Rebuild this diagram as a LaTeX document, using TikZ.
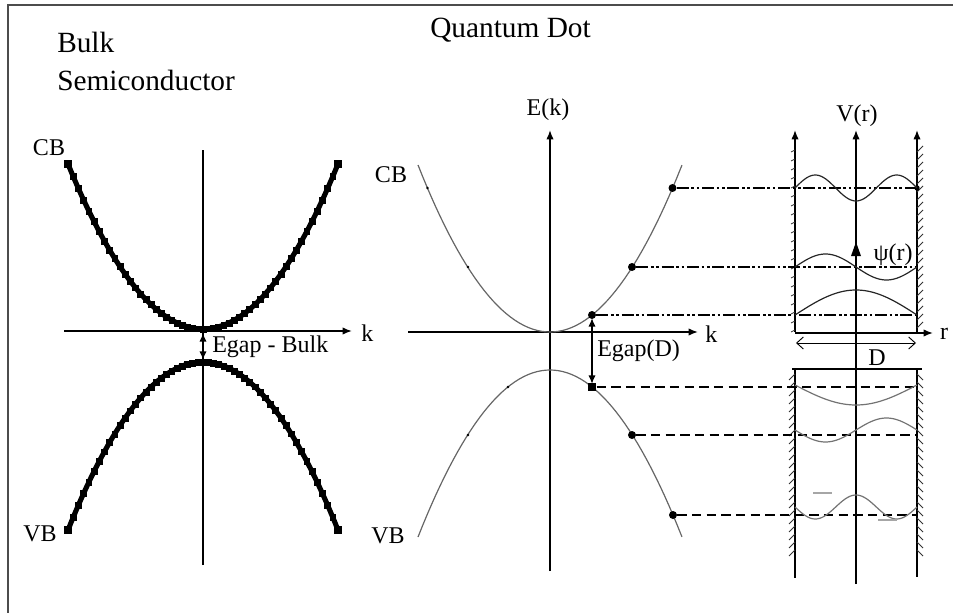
\documentclass[tikz,border=0pt]{standalone}
\usepackage{fontspec}
\setmainfont{Liberation Serif}
\usetikzlibrary{arrows.meta,plotmarks}
\begin{document}
\begin{tikzpicture}[x=0.75pt,y=-0.75pt,
  axis/.style={line width=1.1pt,black},
  axarrow/.style={axis,-{Latex[length=7pt,width=5.5pt]}},
  gaparrow/.style={line width=1.2pt,black,{Latex[length=6.5pt,width=5.5pt]}-{Latex[length=6.5pt,width=5.5pt]}},
  dimarrow/.style={line width=0.7pt,black,{Straight Barb[length=5pt,width=9pt]}-{Straight Barb[length=5pt,width=9pt]}},
  bulkband/.style={line width=3.8pt,black},
  qdband/.style={line width=0.9pt,black!60},
  dashdot/.style={line width=1.8pt,black,dash pattern=on 9pt off 2pt on 2pt off 2pt on 2pt off 2pt},
  dashlvl/.style={line width=1.1pt,black,dash pattern=on 7pt off 4pt},
  upwave/.style={line width=0.9pt,black!85},
  lowwave/.style={line width=0.9pt,black!55},
  hatch/.style={line width=0.6pt,black!80},
  lbl/.style={font=\fontsize{18}{20}\selectfont,inner sep=0pt},
  ttl/.style={font=\fontsize{22}{26}\selectfont,inner sep=0pt},
  bigdot/.style={circle,fill=black,inner sep=0pt,minimum size=6pt},
  bigsq/.style={rectangle,fill=black,inner sep=0pt,minimum size=6.5pt},
  smalldot/.style={circle,fill=black,inner sep=0pt,minimum size=2.2pt},
  endsq/.style={rectangle,fill=black,inner sep=0pt,minimum size=6.5pt}]
\useasboundingbox (0,0) rectangle (953,613);
% frame (cropped)
\coordinate (fr1) at (8,613);
\coordinate (fr2) at (8,5);
\coordinate (fr3) at (953,5);
\draw[line width=1.4pt,black!70] (fr1) -- (fr2) -- (fr3);

% titles
\node[ttl,anchor=base west] (bulk) at (57,53) {Bulk};
\node[ttl,anchor=base west] (semi) at (57,91) {Semiconductor};
\node[ttl,anchor=base west] (qd) at (430,38) {Quantum Dot};

% ---------------- bulk panel ----------------
\coordinate (bEbot) at (203,565);
\coordinate (bEtop) at (203,150);
\coordinate (bk0) at (64,331);
\coordinate (bk1) at (352,331);
\draw[axis] (bEbot) -- (bEtop);
\draw[axarrow] (bk0) -- (bk1);
\node[lbl,anchor=west] (bklab) at (361,333) {k};

\draw[bulkband] plot[domain=-1:1,samples=61] ({203+135*\x},{329-165*\x*\x});
\draw[bulkband] plot[domain=-1:1,samples=61] ({203+135*\x},{362+168*\x*\x});
\draw[black] plot[only marks,mark=square*,mark size=2.2pt,domain=-1:1,samples=53] ({203+135*\x},{329-165*\x*\x});
\draw[black] plot[only marks,mark=square*,mark size=2.2pt,domain=-1:1,samples=53] ({203+135*\x},{362+168*\x*\x});
\node[endsq] (bcbL) at (68,164) {};
\node[endsq] (bcbR) at (338,164) {};
\node[endsq] (bvbL) at (68,530) {};
\node[endsq] (bvbR) at (338,530) {};

\coordinate (bg0) at (203,333);
\coordinate (bg1) at (203,360);
\draw[gaparrow] (bg0) -- (bg1);
\node[lbl,anchor=west] (bgap) at (212,347) {Egap - Bulk};
\node[lbl] (bcb) at (49,148) {CB};
\node[lbl] (bvb) at (40,534) {VB};

% ---------------- quantum dot band panel ----------------
\coordinate (qEbot) at (550,571);
\coordinate (qEtop) at (550,130);
\coordinate (qk0) at (408,332);
\coordinate (qk1) at (698,332);
\draw[axarrow] (qEbot) -- (qEtop);
\draw[axarrow] (qk0) -- (qk1);
\node[lbl] (Ek) at (548,110) {E(k)};
\node[lbl,anchor=west] (qklab) at (705,334) {k};
\node[lbl] (qcb) at (391,175) {CB};
\node[lbl] (qvb) at (388,536) {VB};

\draw[qdband] plot[domain=-1:1,samples=61] ({550+132*\x},{332-167*\x*\x});
\draw[qdband] plot[domain=-1:1,samples=61] ({550+132*\x},{370+167*\x*\x});

% level points on the bands
\node[bigdot] (c1) at (592,315) {};
\node[bigdot] (c2) at (632,267) {};
\node[bigdot] (c3) at (672.5,188) {};
\node[bigsq]  (v1) at (592,387) {};
\node[bigdot] (v2) at (632,435) {};
\node[bigdot] (v3) at (673,515) {};
\node[smalldot] (s1) at (427.5,188) {};
\node[smalldot] (s2) at (468,267) {};
\node[smalldot] (s3) at (508,387) {};
\node[smalldot] (s4) at (468,435) {};

% gap arrow
\coordinate (qg0) at (592,318);
\coordinate (qg1) at (592,384);
\draw[gaparrow] (qg0) -- (qg1);
\node[lbl,anchor=west] (qgap) at (597,351) {Egap(D)};

% ---------------- potential well panel ----------------
\coordinate (lwt) at (795,130);
\coordinate (lwb) at (795,332);
\coordinate (rwt) at (917,130);
\coordinate (rwb) at (917,332);
\coordinate (cat) at (856,130);
\coordinate (cab) at (856,584);
\draw[axarrow] (lwb) -- (lwt);
\draw[axarrow] (rwb) -- (rwt);
\draw[axarrow] (cab) -- (cat);
\node[lbl] (Vr) at (857,116) {V(r)};

\coordinate (r0) at (795,333);
\coordinate (r1) at (933,333);
\draw[axarrow] (r0) -- (r1);
\node[lbl] (rlab) at (944,334) {r};

\coordinate (d0) at (796,343);
\coordinate (d1) at (916,343);
\draw[dimarrow] (d0) -- (d1);
\node[lbl] (Dlab) at (877,358) {D};

\coordinate (lb0) at (792,369);
\coordinate (lb1) at (922,369);
\draw[axis] (lb0) -- (lb1);
\coordinate (llw0) at (795,369);
\coordinate (llw1) at (795,578);
\coordinate (lrw0) at (917,369);
\coordinate (lrw1) at (917,577);
\draw[axis] (llw0) -- (llw1);
\draw[axis] (lrw0) -- (lrw1);

% hatches
\foreach \y in {150,159,...,330} \draw[hatch] (791,\y+2) -- (795,\y);
\foreach \y in {152,160,...,328} \draw[hatch] (917,\y) -- (923,\y-6);
\foreach \y in {374,382,...,550} \draw[hatch] (789,\y+6) -- (795,\y);
\foreach \y in {374,382,...,550} \draw[hatch] (917,\y) -- (923,\y+6);

% psi arrow on the centre axis
\fill (856,242) -- (851,256) -- (861,256) -- cycle;
\node[lbl] (psi) at (893,255) {ψ(r)};

% level lines
\coordinate (w1) at (917,188);
\coordinate (w2) at (917,267);
\coordinate (w3) at (917,315);
\coordinate (w4) at (917,387);
\coordinate (w5) at (917,435);
\coordinate (w6) at (917,515);
\draw[dashdot] (c3) -- (w1);
\draw[dashdot] (c2) -- (w2);
\draw[dashdot] (c1) -- (w3);
\draw[dashlvl] (v1) -- (w4);
\draw[dashlvl] (v2) -- (w5);
\draw[dashlvl] (v3) -- (w6);
\fill (w1) circle (2pt);

% wave functions
\draw[upwave] plot[domain=0:1,samples=61] ({795+122*\x},{188-13*sin(540*\x)});
\draw[upwave] plot[domain=0:1,samples=61] ({795+122*\x},{267-13*sin(360*\x)});
\draw[upwave] plot[domain=0:1,samples=61] ({795+122*\x},{315-25*sin(180*\x)});
\draw[lowwave] plot[domain=0:1,samples=61] ({795+122*\x},{385+20*sin(180*\x)});
\draw[lowwave] plot[domain=0:1,samples=61] ({795+122*\x},{430+12*sin(360*\x)});
\draw[lowwave] plot[domain=0:1,samples=61] ({795+122*\x},{507+12*sin(540*\x)});
\draw[line width=0.8pt,black!35] (813,493) -- (832,493);
\draw[line width=0.8pt,black!35] (878,520) -- (897,520);
\end{tikzpicture}
\end{document}
